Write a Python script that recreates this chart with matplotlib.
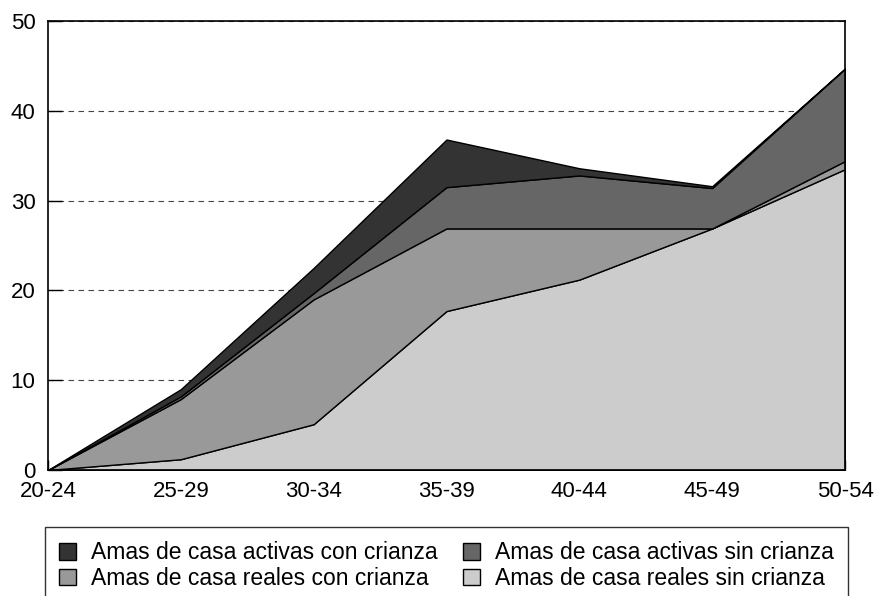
import matplotlib.pyplot as plt

plt.rcParams['font.family'] = ['Liberation Sans', 'DejaVu Sans']

ages = ["20-24", "25-29", "30-34", "35-39", "40-44", "45-49", "50-54"]
reales_sin = [0, 1.2, 5.1, 17.7, 21.2, 26.9, 33.5]
reales_con = [0, 6.7, 13.9, 9.2, 5.7, 0.0, 0.9]
activas_sin = [0, 0.3, 0.7, 4.6, 5.9, 4.5, 10.3]
activas_con = [0, 0.8, 2.8, 5.3, 0.8, 0.2, 0.0]

labels = ["Amas de casa reales sin crianza", "Amas de casa reales con crianza",
          "Amas de casa activas sin crianza", "Amas de casa activas con crianza"]
colors = ["#cccccc", "#999999", "#666666", "#333333"]

fig = plt.figure(figsize=(8.77, 5.96), dpi=100)
ax = fig.add_axes([48 / 877, 1 - 470 / 596, (845 - 48) / 877, (470 - 21) / 596])

x = list(range(len(ages)))
polys = ax.stackplot(x, reales_sin, reales_con, activas_sin, activas_con,
                     colors=colors, labels=labels, edgecolor="black", linewidth=1)

ax.set_xlim(0, len(ages) - 1)
ax.set_ylim(0, 50)
ax.set_xticks(x)
ax.set_xticklabels(ages)
ax.set_yticks(range(0, 51, 10))
ax.tick_params(axis="y", direction="in", length=10, width=1, labelsize=16, pad=9)
ax.tick_params(axis="x", direction="in", length=7, width=1, labelsize=16, pad=8)
ax.yaxis.grid(True, linestyle=(0, (5, 4)), color="#444444", linewidth=0.8)
ax.set_axisbelow(True)
for s in ax.spines.values():
    s.set_linewidth(1.2)

order = [3, 1, 2, 0]
leg = fig.legend([polys[i] for i in order], [labels[i] for i in order], ncol=2,
                 loc="upper left", bbox_to_anchor=(45 / 877, 1 - 527 / 596),
                 frameon=True, fancybox=False, edgecolor="black",
                 prop={'size': 16.5},
                 handlelength=0.75, handleheight=0.75, handletextpad=0.65,
                 columnspacing=1.1, labelspacing=0.12, borderpad=0.62,
                 borderaxespad=0)
leg.get_frame().set_linewidth(1)

fig.savefig("out.png", dpi=100)
